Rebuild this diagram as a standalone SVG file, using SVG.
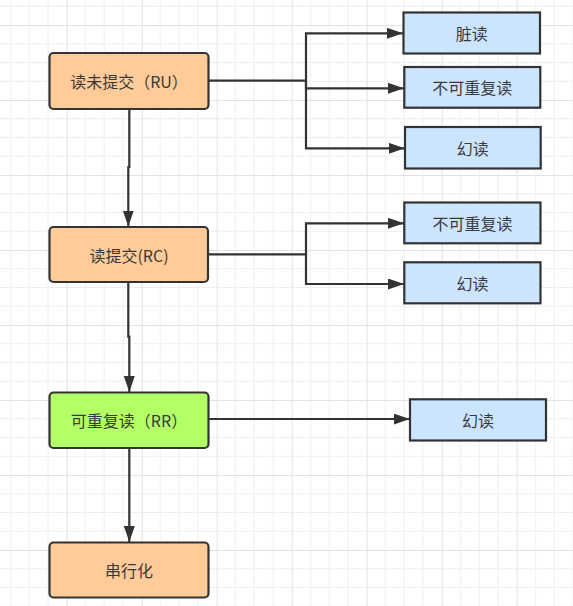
<svg xmlns="http://www.w3.org/2000/svg" width="573" height="606" viewBox="0 0 573 606">
<style>
.node rect{stroke:#333;stroke-width:2.2}
.orange{fill:#FFCC99}
.green{fill:#B3FF66}
.blue{fill:#CCE5FF}
text{font-family:"Noto Sans CJK SC","Noto Sans",sans-serif;font-size:16px;fill:#3a3a3a;text-anchor:middle;dominant-baseline:central}
.conn path{fill:none;stroke:#333;stroke-width:2.2}
</style>
<defs>
<pattern id="grid" x="66.7" y="25" width="75" height="75" patternUnits="userSpaceOnUse">
<path d="M18.75,0V75M37.5,0V75M56.25,0V75M0,18.75H75M0,37.5H75M0,56.25H75" stroke="#eeeeee" stroke-width="1" fill="none"/>
<path d="M0.5,0V75M0,0.5H75" stroke="#e2e2e2" stroke-width="1" fill="none"/>
</pattern>
<marker id="arr" markerUnits="userSpaceOnUse" markerWidth="17" markerHeight="12" refX="16" refY="5.5" orient="auto" viewBox="0 0 17 12">
<path d="M0,0 L16,5.5 L0,11 Z" fill="#333"/>
</marker>
</defs>
<rect width="573" height="606" fill="#ffffff"/>
<rect width="573" height="606" fill="url(#grid)"/>
<g class="conn" id="connectors">
<path d="M129.3,109 V167 H128.3 V226.5" marker-end="url(#arr)"/>
<path d="M128.3,282 V336.7 H129.3 V392" marker-end="url(#arr)"/>
<path d="M129.3,448 V542" marker-end="url(#arr)"/>
<path d="M209,80.7 H306 V33.3 H403" marker-end="url(#arr)"/>
<path d="M306,80.7 V88.3 H404" marker-end="url(#arr)"/>
<path d="M306,80.7 V148.3 H404.7" marker-end="url(#arr)"/>
<path d="M208,254.3 H306 V223.3 H404" marker-end="url(#arr)"/>
<path d="M306,254.3 V284 H404" marker-end="url(#arr)"/>
<path d="M209,419 H409.7" marker-end="url(#arr)"/>
</g>
<g class="node" id="ru"><rect class="orange" x="49.5" y="53" width="159" height="56" rx="4"/><text x="129" y="81">读未提交（RU）</text></g>
<g class="node" id="rc"><rect class="orange" x="49.5" y="227" width="158.5" height="55" rx="4"/><text x="129" y="254.5">读提交(RC)</text></g>
<g class="node" id="rr"><rect class="green" x="49.5" y="392.5" width="159" height="55.5" rx="4"/><text x="129" y="420">可重复读（RR）</text></g>
<g class="node" id="serial"><rect class="orange" x="49.5" y="542.5" width="159" height="55" rx="4"/><text x="129" y="570">串行化</text></g>
<g class="node" id="dirty"><rect class="blue" x="403.5" y="12.5" width="136.5" height="41"/><text x="471.7" y="33">脏读</text></g>
<g class="node" id="nrr1"><rect class="blue" x="404.3" y="67" width="136" height="40.7"/><text x="472.3" y="87.3">不可重复读</text></g>
<g class="node" id="ph1"><rect class="blue" x="405" y="127" width="135.7" height="41.5"/><text x="472.8" y="147.8">幻读</text></g>
<g class="node" id="nrr2"><rect class="blue" x="404.3" y="202.5" width="136.2" height="40.8"/><text x="472.4" y="223">不可重复读</text></g>
<g class="node" id="ph2"><rect class="blue" x="404.3" y="262.3" width="136.2" height="41"/><text x="472.4" y="282.8">幻读</text></g>
<g class="node" id="ph3"><rect class="blue" x="410" y="399.3" width="136" height="41.2"/><text x="478" y="420">幻读</text></g>
</svg>
